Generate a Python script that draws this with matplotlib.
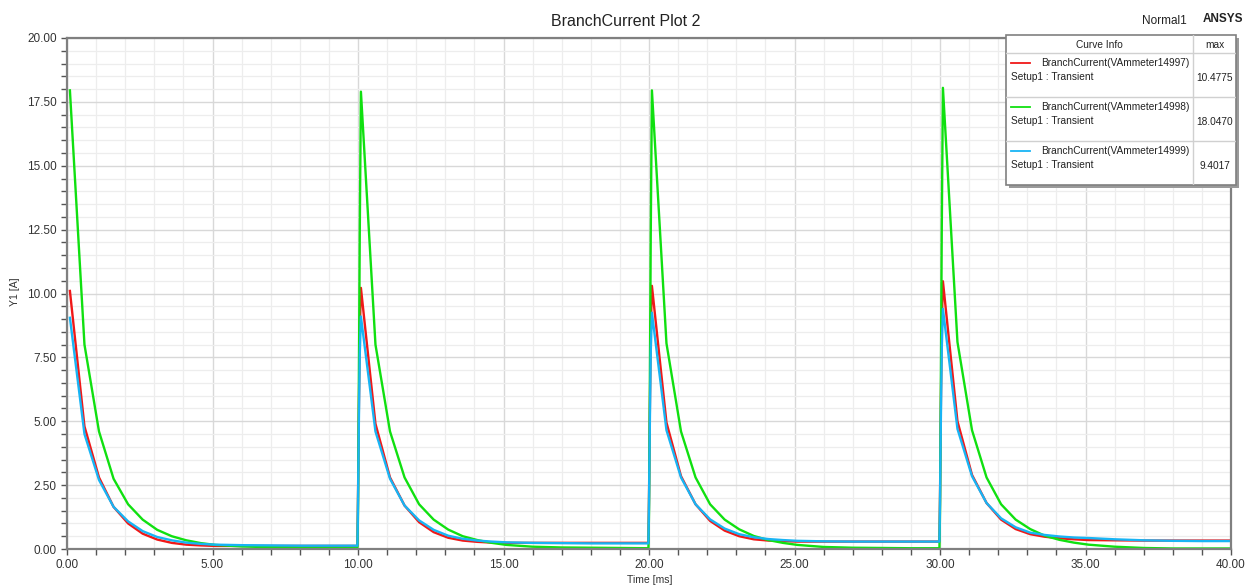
import matplotlib
matplotlib.use("Agg")
import matplotlib.pyplot as plt
from matplotlib.patches import Rectangle
from matplotlib.ticker import MultipleLocator, FormatStrFormatter

plt.rcParams['font.family'] = ['Liberation Sans', 'DejaVu Sans']

# sample times inside one pulse, relative to the pulse start [ms]
rise_t = [-0.02, 0.0, 0.03, 0.06]
decay_t = [0.1, 0.6, 1.1, 1.6, 2.1, 2.6, 3.1, 3.6, 4.1, 4.6, 5.1, 6.0, 7.0, 8.0, 9.0, 9.98]
pulse_starts = [0, 10, 20, 30]

# red: BranchCurrent(VAmmeter14997)
red_rise = [[10.1, 10.1, 10.1, 10.1],
            [0.12, 2.0, 5.5, 8.5],
            [0.24, 2.0, 5.5, 8.6],
            [0.29, 2.0, 5.6, 8.8]]
red_decay = [[10.1, 4.8, 2.8, 1.65, 1.0, 0.6, 0.37, 0.24, 0.17, 0.14, 0.12, 0.12, 0.12, 0.12, 0.12, 0.12],
             [10.22, 4.9, 2.8, 1.7, 1.05, 0.66, 0.44, 0.33, 0.28, 0.25, 0.24, 0.24, 0.24, 0.24, 0.24, 0.24],
             [10.3, 4.95, 2.85, 1.75, 1.1, 0.72, 0.5, 0.38, 0.33, 0.31, 0.29, 0.29, 0.29, 0.29, 0.29, 0.29],
             [10.48, 5.0, 2.9, 1.8, 1.15, 0.78, 0.58, 0.48, 0.42, 0.38, 0.35, 0.34, 0.33, 0.33, 0.33, 0.33]]

# green: BranchCurrent(VAmmeter14998)
green_rise = [[17.95, 17.95, 17.95, 17.95],
              [0.03, 1.4, 6.4, 12.3],
              [0.03, 1.4, 6.4, 12.3],
              [0.03, 1.4, 6.5, 12.4]]
green_decay = [[17.95, 8.0, 4.6, 2.75, 1.75, 1.15, 0.75, 0.5, 0.34, 0.23, 0.16, 0.1, 0.07, 0.05, 0.04, 0.03],
               [17.9, 8.0, 4.6, 2.8, 1.75, 1.15, 0.76, 0.5, 0.35, 0.24, 0.16, 0.09, 0.06, 0.05, 0.04, 0.03],
               [17.95, 8.05, 4.6, 2.8, 1.75, 1.15, 0.77, 0.51, 0.35, 0.24, 0.16, 0.08, 0.05, 0.04, 0.03, 0.03],
               [18.05, 8.1, 4.65, 2.8, 1.75, 1.15, 0.78, 0.52, 0.36, 0.25, 0.17, 0.09, 0.04, 0.02, 0.02, 0.02]]

# blue: BranchCurrent(VAmmeter14999)
blue_rise = [[9.05, 9.05, 9.05, 9.05],
             [0.13, 1.8, 5.0, 7.6],
             [0.22, 1.8, 5.0, 7.7],
             [0.29, 1.8, 5.1, 7.8]]
blue_decay = [[9.05, 4.5, 2.7, 1.65, 1.08, 0.7, 0.47, 0.34, 0.25, 0.2, 0.17, 0.15, 0.14, 0.13, 0.13, 0.13],
              [9.1, 4.6, 2.75, 1.7, 1.12, 0.75, 0.52, 0.4, 0.33, 0.29, 0.26, 0.24, 0.23, 0.22, 0.22, 0.22],
              [9.25, 4.65, 2.8, 1.75, 1.16, 0.8, 0.58, 0.46, 0.39, 0.35, 0.32, 0.3, 0.29, 0.29, 0.29, 0.29],
              [9.4, 4.7, 2.85, 1.8, 1.2, 0.85, 0.64, 0.55, 0.49, 0.45, 0.43, 0.38, 0.34, 0.32, 0.31, 0.31]]

curve_names = ["BranchCurrent(VAmmeter14997)", "BranchCurrent(VAmmeter14998)",
               "BranchCurrent(VAmmeter14999)"]
curve_max = ["10.4775", "18.0470", "9.4017"]
curve_colors = ["#f01818", "#10e010", "#18b4f4"]


def build_series(rise, decay):
    t_all, v_all = [], []
    for k, t0 in enumerate(pulse_starts):
        if k > 0:
            t_all += [t0 + dt for dt in rise_t]
            v_all += rise[k]
        t_all += [t0 + dt for dt in decay_t]
        v_all += decay[k]
    return t_all, v_all


fig = plt.figure(figsize=(12.46, 5.87), dpi=100)
W, H = 1246, 587
ax = fig.add_axes([67 / W, 1 - 549 / H, (1231 - 67) / W, (549 - 38) / H])

series = [build_series(red_rise, red_decay),
          build_series(green_rise, green_decay),
          build_series(blue_rise, blue_decay)]
for (t, v), c in zip(series, curve_colors):
    ax.plot(t, v, color=c, lw=1.7, solid_joinstyle='round')

ax.set_xlim(0, 40)
ax.set_ylim(0, 20)
ax.xaxis.set_major_locator(MultipleLocator(5))
ax.xaxis.set_minor_locator(MultipleLocator(1))
ax.yaxis.set_major_locator(MultipleLocator(2.5))
ax.yaxis.set_minor_locator(MultipleLocator(0.5))
ax.xaxis.set_major_formatter(FormatStrFormatter('%.2f'))
ax.yaxis.set_major_formatter(FormatStrFormatter('%.2f'))
ax.grid(which='major', color='#d8d8d8', lw=1.0)
ax.grid(which='minor', color='#ededed', lw=0.9)
ax.set_axisbelow(True)
ax.tick_params(which='both', direction='out', colors='#555555', labelcolor='#333333',
               labelsize=8.5, width=1.0)
ax.tick_params(which='major', length=4)
ax.tick_params(which='minor', length=4)
for s in ax.spines.values():
    s.set_color('#808080')
    s.set_linewidth(1.6)

fig.text(650 / W, 1 - 580 / H, "Time [ms]", ha='center', va='center', fontsize=7.5, color='#333333')
fig.text(15 / W, 1 - 292 / H, "Y1 [A]", ha='center', va='center', rotation=90, fontsize=7.5,
         color='#333333')
fig.text(626 / W, 1 - 21 / H, "BranchCurrent Plot 2", ha='center', va='center', fontsize=11.5,
         color='#222222')
fig.text(1164 / W, 1 - 21 / H, "Normal1", ha='center', va='center', fontsize=8.5, color='#222222')
fig.text(1223 / W, 1 - 19 / H, "ANSYS", ha='center', va='center', fontsize=8.5, fontweight='bold',
         color='#222222')

# curve info box, drawn in pixel units
lx0, ly0, lw_, lh_ = 1006, 35, 230, 150
leg = fig.add_axes([lx0 / W, 1 - (ly0 + lh_) / H, lw_ / W, lh_ / H])
leg.set_xlim(0, lw_)
leg.set_ylim(lh_, 0)
leg.axis('off')
leg.add_patch(Rectangle((3, 3), lw_, lh_, facecolor='#9a9a9a', edgecolor='none', clip_on=False, zorder=0))
leg.add_patch(Rectangle((0, 0), lw_, lh_, facecolor='white', edgecolor='#808080', lw=1.2,
                        clip_on=False, zorder=1))
col_x = 187
leg.plot([col_x, col_x], [0, lh_], color='#d0d0d0', lw=1, zorder=2)
for yy in [18, 62, 106]:
    leg.plot([0, lw_], [yy, yy], color='#d0d0d0', lw=1, zorder=2)
leg.text(col_x / 2, 10, "Curve Info", ha='center', va='center', fontsize=7.3, color='#222222', zorder=3)
leg.text((col_x + lw_) / 2, 10, "max", ha='center', va='center', fontsize=7.3, color='#222222', zorder=3)
for i in range(3):
    top = 18 + 44 * i
    leg.plot([5, 24], [top + 10, top + 10], color=curve_colors[i], lw=1.3, zorder=3)
    leg.text(35, top + 10, curve_names[i], ha='left', va='center', fontsize=7.3, color='#222222', zorder=3)
    leg.text(5, top + 24, "Setup1 : Transient", ha='left', va='center', fontsize=7.3, color='#222222',
             zorder=3)
    leg.text((col_x + lw_) / 2, top + 25, curve_max[i], ha='center', va='center', fontsize=7.3,
             color='#222222', zorder=3)

fig.savefig("out.png", dpi=100)
